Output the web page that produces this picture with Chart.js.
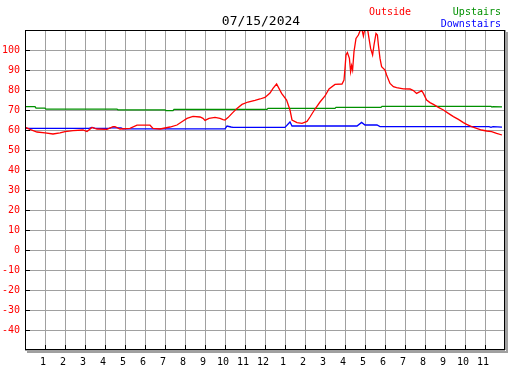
<!DOCTYPE html>
<html>
<head>
<meta charset="utf-8">
<script src="https://cdn.jsdelivr.net/npm/chart.js@4/dist/chart.umd.min.js"></script>
<style>
    html, body { margin: 0; padding: 0; background: #ffffff; }
    #temp-chart { display: block; }
</style>
</head>
<body>
<canvas id="temp-chart" width="527" height="370"></canvas>
<script>
// chart data
var chartTitle = "07/15/2024";
var seriesNames = ["Outside", "Upstairs", "Downstairs"];
var seriesColors = ["#ff0000", "#009000", "#0000ff"];

// hour ticks 0..24 (midnight to midnight)
var hourLabels = ["", "1", "2", "3", "4", "5", "6", "7", "8", "9", "10", "11", "12",
    "1", "2", "3", "4", "5", "6", "7", "8", "9", "10", "11", ""];
var tempTicks = [110, 100, 90, 80, 70, 60, 50, 40, 30, 20, 10, 0, -10, -20, -30, -40, -50];
var tempLabels = ["", "100", "90", "80", "70", "60", "50", "40", "30", "20", "10", "0",
    "-10", "-20", "-30", "-40", ""];

var outsideHours = [0, 0.25, 0.6, 1.0, 1.4, 1.75, 2.0, 2.4, 2.9, 3.1, 3.35, 3.6, 4.1, 4.4, 4.5, 4.75,
    5.25, 5.6, 6.25, 6.4, 6.75, 7.25, 7.6, 7.9, 8.1, 8.4, 8.75, 8.9, 9.0, 9.2, 9.5, 9.75, 9.9,
    10.0, 10.15, 10.35, 10.6, 10.85, 11.15, 11.5, 11.75, 12.0, 12.25, 12.4, 12.58, 12.83,
    13.08, 13.25, 13.35, 13.6, 13.85, 14.1, 14.25, 14.5, 14.75, 15.0, 15.2, 15.5, 15.85,
    15.95, 16.0, 16.05, 16.12, 16.22, 16.28, 16.33, 16.38, 16.45, 16.55, 16.67, 16.75, 16.83,
    16.92, 17.0, 17.12, 17.2, 17.28, 17.38, 17.45, 17.55, 17.62, 17.67, 17.75, 17.83, 18.0,
    18.08, 18.25, 18.42, 18.58, 18.92, 19.25, 19.42, 19.58, 19.75, 19.83, 19.92, 20.08,
    20.25, 20.42, 20.67, 20.92, 21.17, 21.42, 21.67, 21.92, 22.08, 22.33, 22.58, 22.83,
    23.08, 23.33, 23.58, 23.85];
var outsideTemps = [61.4, 60.3, 59, 58.6, 58, 58.6, 59.2, 59.7, 60, 59.2, 61.3, 60.5, 60.3, 61.7, 61.7, 60.5,
    60.8, 62.4, 62.4, 60.8, 60.5, 61.5, 62.5, 64.5, 65.8, 66.8, 66.5, 65.8, 64.8, 65.8, 66.3, 65.8, 65.2,
    65, 66.2, 68.3, 70.8, 72.8, 74, 74.8, 75.5, 76.3, 78.5, 80.8, 83, 78.3,
    75, 70, 65, 63.7, 63.3, 64.3, 66.5, 70.5, 74, 77, 80.5, 82.8, 83,
    85, 90.8, 97.5, 98.7, 95.8, 89.2, 92.2, 90, 99.2, 105.8, 107.5, 109.5, 111,
    107, 111, 111, 105.8, 100.8, 97.5, 102.5, 108.3, 107.5, 102.5, 95.8, 91.7, 90,
    87.5, 83.3, 81.7, 81.2, 80.6, 80.5, 79.7, 78.3, 79.2, 79.7, 78.3, 75,
    73.7, 72.8, 71.3, 70, 68.3, 66.7, 65.3, 63.7, 62.8, 61.7, 60.8, 60,
    59.5, 59.2, 58.3, 57.5];

var upstairsHours = [0, 0.5, 0.55, 1.0, 1.05, 4.6, 4.65, 7.0, 7.05, 7.4, 7.45, 12.1, 12.15,
    15.5, 15.55, 17.8, 17.85, 23.3, 23.35, 23.4, 23.85];
var upstairsTemps = [71.7, 71.7, 70.9, 70.9, 70.4, 70.4, 70.1, 70.1, 69.7, 69.7, 70.3, 70.3, 70.8,
    70.8, 71.3, 71.3, 71.8, 71.8, 71.5, 71.7, 71.6];

var downstairsHours = [0, 3.2, 3.35, 3.5, 4.2, 4.3, 4.8, 4.9, 10.0, 10.1, 10.3, 10.4, 13.0,
    13.25, 13.35, 16.6, 16.83, 17.0, 17.6, 17.75, 23.2, 23.3, 23.4, 23.85];
var downstairsTemps = [60.8, 60.8, 61.3, 60.8, 60.8, 61.1, 61.1, 60.6, 60.6, 62, 61.5, 61.3, 61.3,
    64, 62, 62, 63.8, 62.5, 62.5, 61.7, 61.7, 61.3, 61.7, 61.4];

function toPoints(hours, temps) {
    return hours.map(function (h, i) { return { x: h, y: temps[i] }; });
}

var monoFont = "'DejaVu Sans Mono', 'Liberation Mono', monospace";

// khung, vạch chia, tiêu đề, chú thích
var decorPlugin = {
    id: "decor",
    afterDraw: function (chart) {
        var ctx = chart.ctx;
        var a = chart.chartArea;
        var xs = chart.scales.x, ys = chart.scales.y;
        ctx.save();

        // shadow
        ctx.fillStyle = "#a0a0a0";
        ctx.fillRect(a.right + 1, a.top + 2, 2, a.bottom - a.top + 1);
        ctx.fillRect(a.left + 2, a.bottom + 1, a.right - a.left + 1, 2);

        // border
        ctx.strokeStyle = "#000000";
        ctx.lineWidth = 1;
        ctx.strokeRect(a.left + 0.5, a.top + 0.5, a.right - a.left - 1, a.bottom - a.top - 1);

        // inner tick marks
        ctx.beginPath();
        for (var h = 1; h < hourLabels.length - 1; h++) {
            var px = Math.round(xs.getPixelForValue(h)) + 0.5;
            ctx.moveTo(px, a.bottom - 5);
            ctx.lineTo(px, a.bottom);
        }
        tempTicks.forEach(function (t, i) {
            if (!tempLabels[i]) return;
            var py = Math.round(ys.getPixelForValue(t)) + 0.5;
            ctx.moveTo(a.left, py);
            ctx.lineTo(a.left + 5, py);
        });
        ctx.stroke();

        // title
        ctx.fillStyle = "#000000";
        ctx.font = "13px " + monoFont;
        ctx.textAlign = "center";
        ctx.textBaseline = "alphabetic";
        ctx.fillText(chartTitle, 261, 25);

        // legend
        ctx.font = "10px " + monoFont;
        ctx.textAlign = "left";
        ctx.fillStyle = seriesColors[0];
        ctx.fillText(seriesNames[0], 369, 15);
        ctx.textAlign = "right";
        ctx.fillStyle = seriesColors[1];
        ctx.fillText(seriesNames[1], 501, 15);
        ctx.fillStyle = seriesColors[2];
        ctx.fillText(seriesNames[2], 501, 27);
        ctx.restore();
    }
};

var datasets = [
    toPoints(outsideHours, outsideTemps),
    toPoints(upstairsHours, upstairsTemps),
    toPoints(downstairsHours, downstairsTemps)
].map(function (pts, i) {
    return {
        label: seriesNames[i],
        data: pts,
        borderColor: seriesColors[i],
        backgroundColor: seriesColors[i],
        borderWidth: 1.3,
        pointRadius: 0,
        tension: 0,
        fill: false,
        clip: 0
    };
});

var ctx = document.getElementById("temp-chart").getContext("2d");
var myChart = new Chart(ctx, {
    type: "line",
    data: { datasets: datasets },
    options: {
        responsive: false,
        animation: false,
        layout: { padding: { top: 30, right: 22, left: 0, bottom: 0 } },
        plugins: {
            legend: { display: false },
            title: { display: false },
            tooltip: { enabled: false }
        },
        scales: {
            x: {
                type: "linear",
                min: 0,
                max: 24,
                afterFit: function (scale) { scale.height = 20; },
                afterBuildTicks: function (scale) {
                    scale.ticks = hourLabels.map(function (l, i) { return { value: i }; });
                },
                border: { display: false },
                grid: { color: "#a0a0a0", lineWidth: 1, drawTicks: false },
                ticks: {
                    autoSkip: false,
                    maxRotation: 0,
                    padding: 6,
                    labelOffset: -2,
                    color: "#000000",
                    font: { family: monoFont, size: 10 },
                    callback: function (value) { return hourLabels[value]; }
                }
            },
            y: {
                min: -50,
                max: 110,
                afterFit: function (scale) { scale.width = 25; },
                afterBuildTicks: function (scale) {
                    scale.ticks = tempTicks.map(function (t) { return { value: t }; });
                },
                border: { display: false },
                grid: { color: "#a0a0a0", lineWidth: 1, drawTicks: false },
                ticks: {
                    padding: 5,
                    color: "#ff0000",
                    font: { family: monoFont, size: 10 },
                    callback: function (value) {
                        return tempLabels[tempTicks.indexOf(value)];
                    }
                }
            }
        }
    },
    plugins: [decorPlugin]
});
</script>
</body>
</html>
